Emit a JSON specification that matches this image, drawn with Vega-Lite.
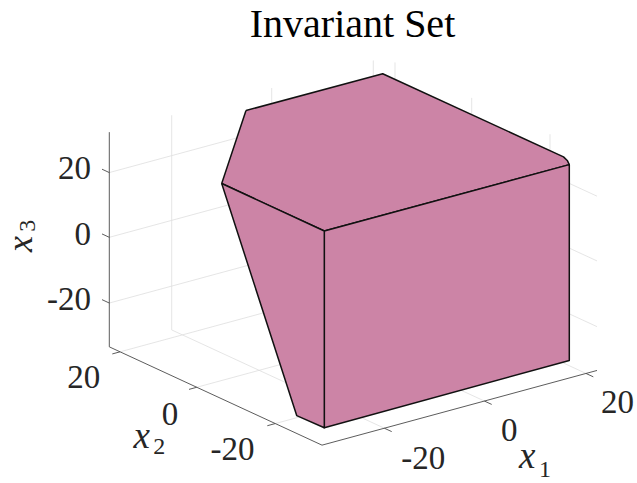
{
  "$schema": "https://vega.github.io/schema/vega-lite/v6.json",
  "width": 637,
  "height": 483,
  "autosize": {"type": "fit", "contains": "padding"},
  "padding": 0,
  "background": "white",
  "config": {"view": {"stroke": null}},
  "datasets": {
    "grid": [
      {"u": 109.3, "v": 304.3, "u2": 384.3, "v2": 229.3},
      {"u": 384.3, "v": 229.3, "u2": 597, "v2": 328},
      {"u": 109.3, "v": 238.3, "u2": 384.3, "v2": 163.3},
      {"u": 384.3, "v": 163.3, "u2": 597, "v2": 262},
      {"u": 109.3, "v": 173.3, "u2": 384.3, "v2": 98.3},
      {"u": 384.3, "v": 98.3, "u2": 597, "v2": 197},
      {"u": 171.7, "v": 331.3, "u2": 171.7, "v2": 115.7},
      {"u": 271.7, "v": 304, "u2": 271.7, "v2": 88.4},
      {"u": 373.3, "v": 276.3, "u2": 373.3, "v2": 60.7},
      {"u": 395, "v": 278.3, "u2": 395, "v2": 62.7},
      {"u": 471.7, "v": 313.9, "u2": 471.7, "v2": 98.3},
      {"u": 550, "v": 350.4, "u2": 550, "v2": 134.8},
      {"u": 171.7, "v": 331.3, "u2": 384.4, "v2": 430},
      {"u": 271.7, "v": 304, "u2": 484.4, "v2": 402.7},
      {"u": 373.3, "v": 276.3, "u2": 586, "v2": 375},
      {"u": 120, "v": 353.3, "u2": 395, "v2": 278.3},
      {"u": 196.7, "v": 388.9, "u2": 471.7, "v2": 313.9},
      {"u": 275, "v": 425.4, "u2": 550, "v2": 350.4}
    ],
    "axes": [
      {"u": 109.3, "v": 348.3, "u2": 109.3, "v2": 132.7},
      {"u": 109.3, "v": 348.3, "u2": 322, "v2": 447},
      {"u": 322, "v": 447, "u2": 597, "v2": 372},
      {"u": 109.3, "v": 173.3, "u2": 102, "v2": 169.9},
      {"u": 109.3, "v": 238.3, "u2": 102, "v2": 234.9},
      {"u": 109.3, "v": 304.3, "u2": 102, "v2": 300.9},
      {"u": 120, "v": 353.3, "u2": 112.3, "v2": 355.4},
      {"u": 196.7, "v": 388.9, "u2": 189, "v2": 391},
      {"u": 275, "v": 425.4, "u2": 267.3, "v2": 427.5},
      {"u": 384.4, "v": 430, "u2": 391.7, "v2": 433.4},
      {"u": 484.4, "v": 402.7, "u2": 491.7, "v2": 406.1},
      {"u": 586, "v": 375, "u2": 593.3, "v2": 378.4}
    ],
    "faces": [
      {"face": "top", "i": 0, "u": 246, "v": 111},
      {"face": "top", "i": 1, "u": 382.7, "v": 74},
      {"face": "top", "i": 2, "u": 563.5, "v": 157.5},
      {"face": "top", "i": 3, "u": 567.5, "v": 161.5},
      {"face": "top", "i": 4, "u": 569.3, "v": 165.3},
      {"face": "top", "i": 5, "u": 324.3, "v": 232},
      {"face": "top", "i": 6, "u": 221.7, "v": 184.3},
      {"face": "top", "i": 7, "u": 246, "v": 111},
      {"face": "front", "i": 0, "u": 324.3, "v": 232},
      {"face": "front", "i": 1, "u": 569.3, "v": 165.3},
      {"face": "front", "i": 2, "u": 569.3, "v": 362},
      {"face": "front", "i": 3, "u": 324.3, "v": 429.5},
      {"face": "front", "i": 4, "u": 324.3, "v": 232},
      {"face": "left", "i": 0, "u": 221.7, "v": 184.3},
      {"face": "left", "i": 1, "u": 324.3, "v": 232},
      {"face": "left", "i": 2, "u": 324.3, "v": 429.5},
      {"face": "left", "i": 3, "u": 296.7, "v": 417.3},
      {"face": "left", "i": 4, "u": 221.7, "v": 184.3}
    ],
    "title": [{"t": "Invariant Set", "u": 352.5, "v": 37.3}],
    "zticks": [
      {"t": "20", "u": 91, "v": 180},
      {"t": "0", "u": 91, "v": 246},
      {"t": "-20", "u": 91, "v": 311}
    ],
    "xyticks": [
      {"t": "20", "u": 83.7, "v": 390},
      {"t": "0", "u": 170, "v": 426.7},
      {"t": "-20", "u": 232.5, "v": 461.7},
      {"t": "-20", "u": 423.3, "v": 470.7},
      {"t": "0", "u": 509.2, "v": 443.3},
      {"t": "20", "u": 617.5, "v": 415}
    ],
    "labx": [
      {"t": "x", "u": 141.7, "v": 450},
      {"t": "x", "u": 527.3, "v": 470}
    ],
    "labsub": [
      {"t": "2", "u": 159.3, "v": 455.7},
      {"t": "1", "u": 545, "v": 479.3}
    ],
    "labz": [{"t": "x", "u": 31.5, "v": 245}],
    "labzsub": [{"t": "3", "u": 34.5, "v": 226.7}]
  },
  "layer": [
    {
      "data": {"name": "grid"},
      "mark": {"type": "rule", "color": "#dedede", "strokeWidth": 0.8},
      "encoding": {
        "x": {"field": "u", "type": "quantitative", "scale": {"domain": [0, 637], "nice": false, "zero": false}, "axis": null},
        "y": {"field": "v", "type": "quantitative", "scale": {"domain": [0, 483], "reverse": true, "nice": false, "zero": false}, "axis": null},
        "x2": {"field": "u2"},
        "y2": {"field": "v2"}
      }
    },
    {
      "data": {"name": "axes"},
      "mark": {"type": "rule", "color": "#4a4a4a", "strokeWidth": 0.9},
      "encoding": {
        "x": {"field": "u", "type": "quantitative", "scale": {"domain": [0, 637], "nice": false, "zero": false}, "axis": null},
        "y": {"field": "v", "type": "quantitative", "scale": {"domain": [0, 483], "reverse": true, "nice": false, "zero": false}, "axis": null},
        "x2": {"field": "u2"},
        "y2": {"field": "v2"}
      }
    },
    {
      "data": {"name": "faces"},
      "mark": {"type": "line", "fill": "#cc84a6", "fillOpacity": 1, "stroke": "#111111", "strokeWidth": 1.5, "strokeJoin": "round"},
      "encoding": {
        "x": {"field": "u", "type": "quantitative", "scale": {"domain": [0, 637], "nice": false, "zero": false}, "axis": null},
        "y": {"field": "v", "type": "quantitative", "scale": {"domain": [0, 483], "reverse": true, "nice": false, "zero": false}, "axis": null},
        "detail": {"field": "face", "type": "nominal"},
        "order": {"field": "i", "type": "quantitative"}
      }
    },
    {
      "data": {"name": "title"},
      "mark": {"type": "text", "font": "Liberation Serif", "fontSize": 40, "align": "center", "baseline": "alphabetic", "color": "#000000"},
      "encoding": {
        "x": {"field": "u", "type": "quantitative", "axis": null},
        "y": {"field": "v", "type": "quantitative", "axis": null},
        "text": {"field": "t"}
      }
    },
    {
      "data": {"name": "zticks"},
      "mark": {"type": "text", "font": "Liberation Serif", "fontSize": 33, "align": "right", "baseline": "alphabetic", "color": "#262626"},
      "encoding": {
        "x": {"field": "u", "type": "quantitative", "axis": null},
        "y": {"field": "v", "type": "quantitative", "axis": null},
        "text": {"field": "t"}
      }
    },
    {
      "data": {"name": "xyticks"},
      "mark": {"type": "text", "font": "Liberation Serif", "fontSize": 33, "align": "center", "baseline": "alphabetic", "color": "#262626"},
      "encoding": {
        "x": {"field": "u", "type": "quantitative", "axis": null},
        "y": {"field": "v", "type": "quantitative", "axis": null},
        "text": {"field": "t"}
      }
    },
    {
      "data": {"name": "labx"},
      "mark": {"type": "text", "font": "Liberation Serif", "fontStyle": "italic", "fontSize": 37, "align": "center", "baseline": "alphabetic", "color": "#262626"},
      "encoding": {
        "x": {"field": "u", "type": "quantitative", "axis": null},
        "y": {"field": "v", "type": "quantitative", "axis": null},
        "text": {"field": "t"}
      }
    },
    {
      "data": {"name": "labsub"},
      "mark": {"type": "text", "font": "Liberation Serif", "fontSize": 24, "align": "center", "baseline": "alphabetic", "color": "#262626"},
      "encoding": {
        "x": {"field": "u", "type": "quantitative", "axis": null},
        "y": {"field": "v", "type": "quantitative", "axis": null},
        "text": {"field": "t"}
      }
    },
    {
      "data": {"name": "labz"},
      "mark": {"type": "text", "font": "Liberation Serif", "fontStyle": "italic", "fontSize": 36, "align": "center", "baseline": "alphabetic", "angle": 270, "color": "#262626"},
      "encoding": {
        "x": {"field": "u", "type": "quantitative", "axis": null},
        "y": {"field": "v", "type": "quantitative", "axis": null},
        "text": {"field": "t"}
      }
    },
    {
      "data": {"name": "labzsub"},
      "mark": {"type": "text", "font": "Liberation Serif", "fontSize": 24, "align": "center", "baseline": "alphabetic", "angle": 270, "color": "#262626"},
      "encoding": {
        "x": {"field": "u", "type": "quantitative", "axis": null},
        "y": {"field": "v", "type": "quantitative", "axis": null},
        "text": {"field": "t"}
      }
    }
  ]
}
